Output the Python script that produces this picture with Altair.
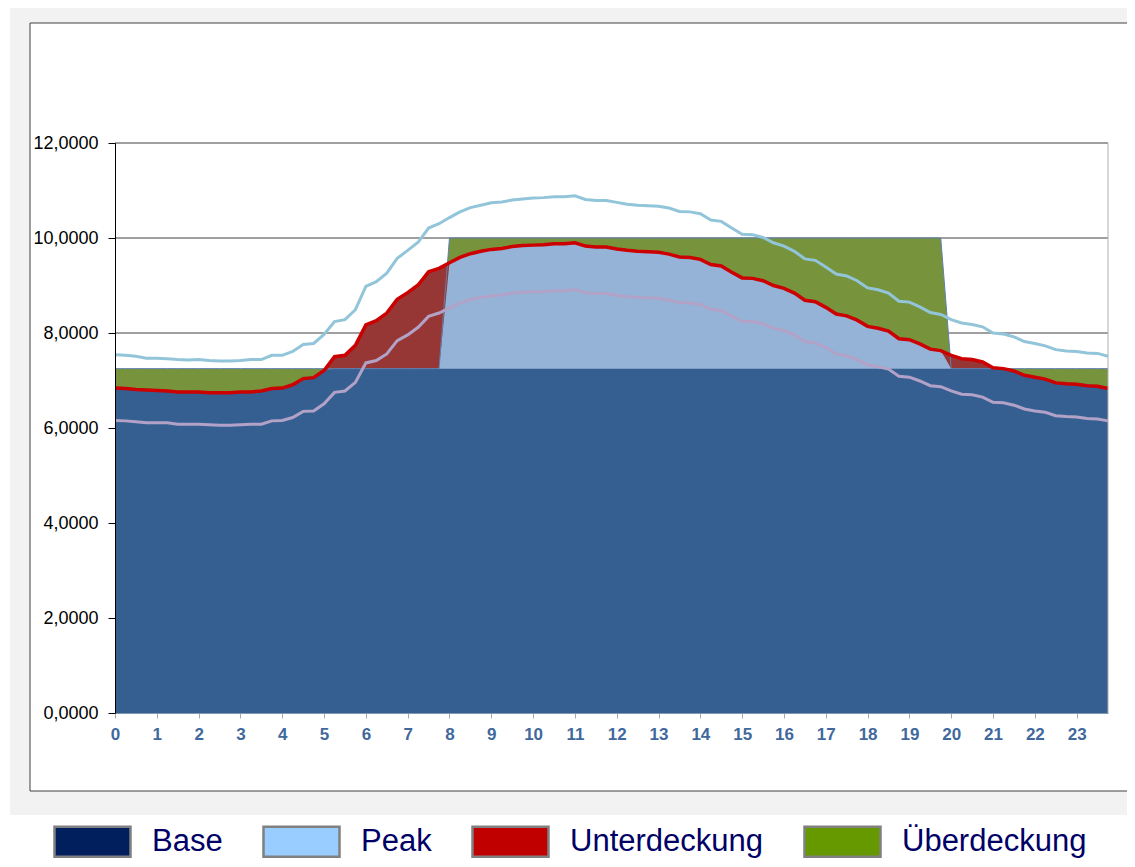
import altair as alt
import pandas as pd

# quarter-hourly demand (red line) and its upper / lower band lines
demand = [
    6.84, 6.83, 6.81, 6.80, 6.79, 6.78, 6.76, 6.76,
    6.76, 6.74, 6.74, 6.74, 6.76, 6.76, 6.78, 6.83,
    6.84, 6.91, 7.04, 7.06, 7.21, 7.50, 7.53, 7.74,
    8.17, 8.26, 8.42, 8.71, 8.85, 9.01, 9.29, 9.36,
    9.48, 9.59, 9.67, 9.72, 9.76, 9.78, 9.82, 9.84,
    9.85, 9.86, 9.88, 9.88, 9.90, 9.83, 9.81, 9.81,
    9.77, 9.74, 9.72, 9.71, 9.70, 9.66, 9.60, 9.59,
    9.55, 9.44, 9.41, 9.28, 9.16, 9.15, 9.10, 9.00,
    8.94, 8.84, 8.69, 8.66, 8.54, 8.40, 8.36, 8.27,
    8.14, 8.10, 8.04, 7.88, 7.86, 7.77, 7.66, 7.63,
    7.53, 7.46, 7.44, 7.39, 7.27, 7.25, 7.20, 7.11,
    7.07, 7.03, 6.95, 6.93, 6.92, 6.89, 6.88, 6.83,
]
upper = [
    7.54, 7.53, 7.51, 7.47, 7.47, 7.46, 7.44, 7.43,
    7.44, 7.42, 7.41, 7.41, 7.42, 7.44, 7.44, 7.53,
    7.53, 7.61, 7.76, 7.78, 7.97, 8.24, 8.28, 8.49,
    8.98, 9.08, 9.26, 9.57, 9.74, 9.91, 10.21, 10.30,
    10.43, 10.55, 10.64, 10.69, 10.74, 10.76, 10.80, 10.82,
    10.84, 10.85, 10.87, 10.87, 10.89, 10.81, 10.79, 10.79,
    10.75, 10.71, 10.69, 10.68, 10.67, 10.63, 10.56, 10.55,
    10.51, 10.38, 10.35, 10.21, 10.08, 10.07, 10.01, 9.90,
    9.83, 9.72, 9.56, 9.53, 9.39, 9.24, 9.20, 9.10,
    8.95, 8.91, 8.84, 8.67, 8.65, 8.55, 8.43, 8.39,
    8.28, 8.21, 8.18, 8.13, 8.00, 7.98, 7.92, 7.82,
    7.78, 7.73, 7.65, 7.62, 7.61, 7.58, 7.57, 7.51,
]
lower = [
    6.16, 6.15, 6.13, 6.11, 6.11, 6.11, 6.08, 6.08,
    6.08, 6.07, 6.06, 6.06, 6.07, 6.08, 6.08, 6.15,
    6.16, 6.22, 6.35, 6.36, 6.51, 6.75, 6.78, 6.96,
    7.37, 7.42, 7.56, 7.84, 7.96, 8.12, 8.35, 8.42,
    8.53, 8.63, 8.70, 8.75, 8.78, 8.80, 8.84, 8.86,
    8.87, 8.87, 8.89, 8.89, 8.91, 8.85, 8.83, 8.83,
    8.79, 8.77, 8.75, 8.74, 8.73, 8.69, 8.64, 8.63,
    8.60, 8.50, 8.47, 8.35, 8.24, 8.24, 8.19, 8.10,
    8.05, 7.96, 7.82, 7.79, 7.69, 7.56, 7.52, 7.44,
    7.33, 7.29, 7.24, 7.09, 7.07, 6.99, 6.89, 6.87,
    6.78, 6.71, 6.70, 6.65, 6.54, 6.53, 6.48, 6.40,
    6.36, 6.33, 6.26, 6.24, 6.23, 6.20, 6.19, 6.15,
]
base_level = 7.25
peak_level = 10.0
peak_start, peak_end = 8.0, 19.75

x_ticks = list(range(24))
y_ticks = [0, 2, 4, 6, 8, 10, 12]
grid_values = [2, 4, 6, 8, 10, 12]

legend_names = ["Base", "Peak", "Unterdeckung", "Überdeckung"]
legend_colors = ["#001F5C", "#99CCFF", "#C00000", "#669900"]

hours = [i * 0.25 for i in range(len(demand))]
supply = [peak_level if peak_start <= h <= peak_end else base_level for h in hours]
covered = [min(d, s) for d, s in zip(demand, supply)]
base_cov = [min(d, base_level) for d in demand]

df = pd.DataFrame(dict(h=hours, demand=demand, upper=upper, lower=lower,
                       supply=supply, covered=covered, base_cov=base_cov))

W, H = 993, 570
FONT = "Liberation Sans"

x_scale = alt.Scale(domain=[0, 23.75], nice=False, zero=False)
y_scale = alt.Scale(domain=[0, 12], nice=False)

x_axis = alt.Axis(values=x_ticks, format="d", title=None, grid=False,
                  labelFont=FONT, labelFontSize=17, labelFontWeight="bold",
                  labelColor="#41689C", tickColor="#A6A6A6", tickSize=5,
                  labelPadding=8, domainColor="#7F97B2", labelFlush=False,
                  labelOverlap=False, zindex=1)
y_axis = alt.Axis(values=y_ticks, title=None, grid=False,
                  labelExpr="replace(format(datum.value, '.4f'), '.', ',')",
                  labelFont=FONT, labelFontSize=18, labelColor="#000000",
                  tickColor="#000000", tickSize=7, labelPadding=10,
                  domainColor="#000000", labelOverlap=False, zindex=1)


def X():
    return alt.X("h:Q", scale=x_scale, axis=x_axis)


def Y(field):
    return alt.Y(f"{field}:Q", scale=y_scale, axis=y_axis)


one = pd.DataFrame({"a": [0]})

gray_box = alt.Chart(one).mark_rect(fill="#F2F2F2").encode(
    x=alt.value(-105), x2=alt.value(1020), y=alt.value(-138), y2=alt.value(672))
white_box = alt.Chart(one).mark_rect(fill="white", stroke="#404040", strokeWidth=1).encode(
    x=alt.value(-85), x2=alt.value(1013), y=alt.value(-120), y2=alt.value(648))

grid = alt.Chart(pd.DataFrame({"g": grid_values})).mark_rule(
    color="#404040", strokeWidth=1).encode(y=Y("g"))

base = alt.Chart(df)
green = base.mark_area(color="#77933C", opacity=1).encode(x=X(), y=Y("supply"))
red = base.mark_area(color="#963735", opacity=1).encode(x=X(), y=Y("demand"))
light = base.mark_area(color="#95B3D7", opacity=1).encode(x=X(), y=Y("covered"))
dark = base.mark_area(color="#365F91", opacity=1).encode(x=X(), y=Y("base_cov"))
supply_line = base.mark_line(color="#5F7FAF", strokeWidth=1).encode(x=X(), y=Y("supply"))
lower_line = base.mark_line(color="#B3A2C7", strokeWidth=3).encode(x=X(), y=Y("lower"))
upper_line = base.mark_line(color="#92C5DA", strokeWidth=3).encode(x=X(), y=Y("upper"))
red_line = base.mark_line(color="#CC0000", strokeWidth=3.5).encode(x=X(), y=Y("demand"))

right_border = alt.Chart(one).mark_rule(color="#B0B0B0", strokeWidth=1).encode(
    x=alt.value(W), y=alt.value(0), y2=alt.value(H))

legend_layer = alt.Chart(pd.DataFrame({"name": legend_names})).mark_square(
    opacity=0, filled=True).encode(
    color=alt.Color("name:N",
                    scale=alt.Scale(domain=legend_names, range=legend_colors),
                    legend=alt.Legend(
                        orient="none", legendX=-62, legendY=659,
                        direction="horizontal", columns=4, title=None,
                        symbolType="M-1,-0.395L1,-0.395L1,0.395L-1,0.395Z",
                        symbolSize=5776, symbolStrokeColor="#808080",
                        symbolStrokeWidth=2.5, symbolOpacity=1,
                        labelFont=FONT, labelFontSize=31, labelColor="#000066",
                        labelOffset=20, columnPadding=35, padding=0,
                        labelLimit=400)))

chart = alt.layer(
    gray_box, white_box, grid, green, red, light, dark, supply_line,
    lower_line, upper_line, red_line, right_border, legend_layer
).properties(
    width=W, height=H,
    padding={"left": 107, "top": 135, "right": 19, "bottom": 146},
    autosize=alt.AutoSizeParams(type="none"),
    background="white",
).configure_view(strokeWidth=0).configure(font=FONT)

chart.save("out.html", embed_options={"renderer": "svg", "actions": False})
